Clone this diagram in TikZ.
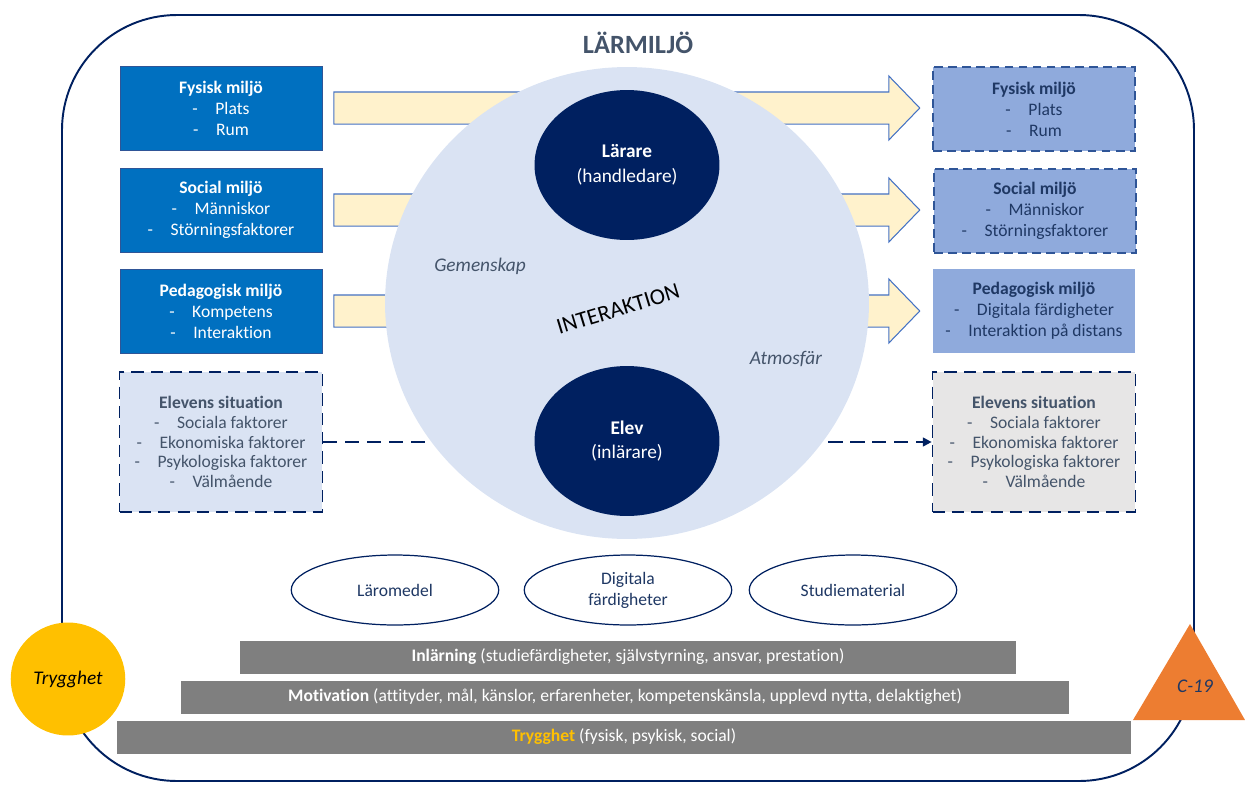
\documentclass[tikz,border=0pt]{standalone}
\usepackage{fontspec}
\setmainfont[Ligatures=NoCommon]{Carlito}
\usetikzlibrary{shapes.geometric, shapes.arrows, arrows.meta, calc}
\definecolor{navy}{RGB}{0, 32, 96}
\definecolor{navytext}{RGB}{31, 56, 100}
\definecolor{slate}{RGB}{68, 84, 106}
\definecolor{boxblue}{RGB}{0, 112, 192}
\definecolor{boxedge}{RGB}{47, 85, 151}
\definecolor{paleblue}{RGB}{143, 170, 220}
\definecolor{circblue}{RGB}{218, 227, 243}
\definecolor{arrowfill}{RGB}{255, 242, 204}
\definecolor{arrowedge}{RGB}{68, 114, 196}
\definecolor{lightgray}{RGB}{231, 230, 230}
\definecolor{bargray}{RGB}{127, 127, 127}
\definecolor{gold}{RGB}{255, 192, 0}
\definecolor{c19orange}{RGB}{237, 125, 49}
\tikzstyle{leftbox} = [rectangle, minimum width=4.04cm, minimum height=1.68cm,
                       align=center, draw=boxedge, fill=boxblue, text=white,
                       font=\fontsize{10}{12}\selectfont, line width=0.4pt]
\tikzstyle{rightbox} = [leftbox, fill=paleblue, text=navytext, draw=boxedge,
                        dash pattern=on 5pt off 3pt, line width=0.9pt]
\tikzstyle{elevbox} = [rectangle, minimum width=4.06cm, minimum height=2.8cm,
                       align=center, draw=navy, text=slate, line width=1pt,
                       dash pattern=on 7pt off 4pt,
                       font=\fontsize{10}{11.3}\selectfont]
\tikzstyle{blockarrow} = [single arrow, draw=arrowedge, fill=arrowfill, anchor=tail,
                          minimum height=11.72cm, inner xsep=0pt, inner ysep=0.31cm,
                          single arrow head extend=0.32cm,
                          single arrow tip angle=92, line width=0.6pt]
\tikzstyle{person} = [ellipse, fill=navy, text=white, align=center,
                      minimum width=3.7cm, minimum height=3.0cm,
                      font=\fontsize{11}{14}\selectfont]
\tikzstyle{tool} = [ellipse, draw=navy, fill=white, text=navytext, align=center,
                    minimum width=4.15cm, minimum height=1.4cm, line width=0.7pt,
                    font=\fontsize{10}{12}\selectfont]
\tikzstyle{bar} = [rectangle, fill=bargray, text=white, minimum height=0.66cm,
                   font=\fontsize{10}{12}\selectfont]
\tikzstyle{mood} = [text=slate, font=\fontsize{11}{13}\selectfont\itshape]

\begin{document}
\begin{tikzpicture}[x=0.02cm, y=-0.02cm]
    \useasboundingbox (0,0) rectangle (1245,785);

    % frame
    \draw [navy, line width=1.1pt, rounded corners=2.3cm] (62,15) rectangle (1194,781);
    \node (title) [text=slate, font=\fontsize{15}{18}\selectfont\bfseries] at (638,43) {LÄRMILJÖ};

    % left side
    \node (fysL) [leftbox] at (221,108) {\textbf{Fysisk miljö}\\-\quad Plats\\-\quad Rum};
    \node (socL) [leftbox] at (221,210) {\textbf{Social miljö}\\-\quad Människor\\-\quad Störningsfaktorer};
    \node (pedL) [leftbox] at (221,311) {\textbf{Pedagogisk miljö}\\-\quad Kompetens\\-\quad Interaktion};
    \node (eleL) [elevbox, fill=circblue] at (221,442) {\textbf{Elevens situation}\\-\quad Sociala faktorer\\-\quad Ekonomiska faktorer\\-\quad Psykologiska faktorer\\-\quad Välmående};

    % right side
    \node (fysR) [rightbox] at (1034,109) {\textbf{Fysisk miljö}\\-\quad Plats\\-\quad Rum};
    \node (socR) [rightbox] at (1035,211) {\textbf{Social miljö}\\-\quad Människor\\-\quad Störningsfaktorer};
    \node (pedR) [rightbox, draw=none, solid] at (1034,311) {\textbf{Pedagogisk miljö}\\-\quad Digitala färdigheter\\-\quad Interaktion på distans};
    \node (eleR) [elevbox, fill=lightgray] at (1034,442) {\textbf{Elevens situation}\\-\quad Sociala faktorer\\-\quad Ekonomiska faktorer\\-\quad Psykologiska faktorer\\-\quad Välmående};

    % arrows behind the circle
    \node (arr1) [blockarrow] at ($(fysL.east)+(11,0)$) {};
    \node (arr2) [blockarrow] at ($(socL.east)+(11,0)$) {};
    \node (arr3) [blockarrow] at ($(pedL.east)+(11,0)$) {};
    \draw [navy, line width=1.1pt, dash pattern=on 8pt off 4.5pt, -{Triangle[length=5pt, width=5pt]}] (eleL.east) -- (eleR.west);

    % interaction
    \node (circ) [ellipse, fill=circblue, minimum width=9.68cm, minimum height=9.44cm] at (627,303) {};
    \node (lar) [person] at (627,165) {\textbf{Lärare}\\(handledare)};
    \node (elev) [person] at (627,441) {\textbf{Elev}\\(inlärare)};
    \node (gem) [mood] at (480,266) {Gemenskap};
    \node (atm) [mood] at (786,359) {Atmosfär};
    \node (inter) [rotate=17, font=\fontsize{13}{15}\selectfont] at (618,309) {INTERAKTION};

    % tools
    \node (lmed) [tool] at (395,590) {Läromedel};
    \node (digi) [tool] at (628,590) {Digitala\\färdigheter};
    \node (stud) [tool] at (853,590) {Studiematerial};

    % steps
    \node (inl) [bar, minimum width=15.52cm] at (628,657) {\textbf{Inlärning} (studiefärdigheter, självstyrning, ansvar, prestation)};
    \node (mot) [bar, minimum width=17.76cm] at (625,697) {\textbf{Motivation} (attityder, mål, känslor, erfarenheter, kompetenskänsla, upplevd nytta, delaktighet)};
    \node (tryg) [bar, minimum width=20.28cm] at (624,737) {\textbf{\textcolor{gold}{Trygghet}} (fysisk, psykisk, social)};

    \node (trygc) [ellipse, fill=gold, minimum width=2.2cm, minimum height=2.26cm,
                   font=\fontsize{11}{13}\selectfont\itshape] at (68,679) {Trygghet};
    \fill [c19orange] (1190,624) -- (1133,720) -- (1245,720) -- cycle;
    \node (c19) [text=navytext, font=\fontsize{11}{13}\selectfont\itshape] at (1195,686) {C-19};

\end{tikzpicture}
\end{document}
